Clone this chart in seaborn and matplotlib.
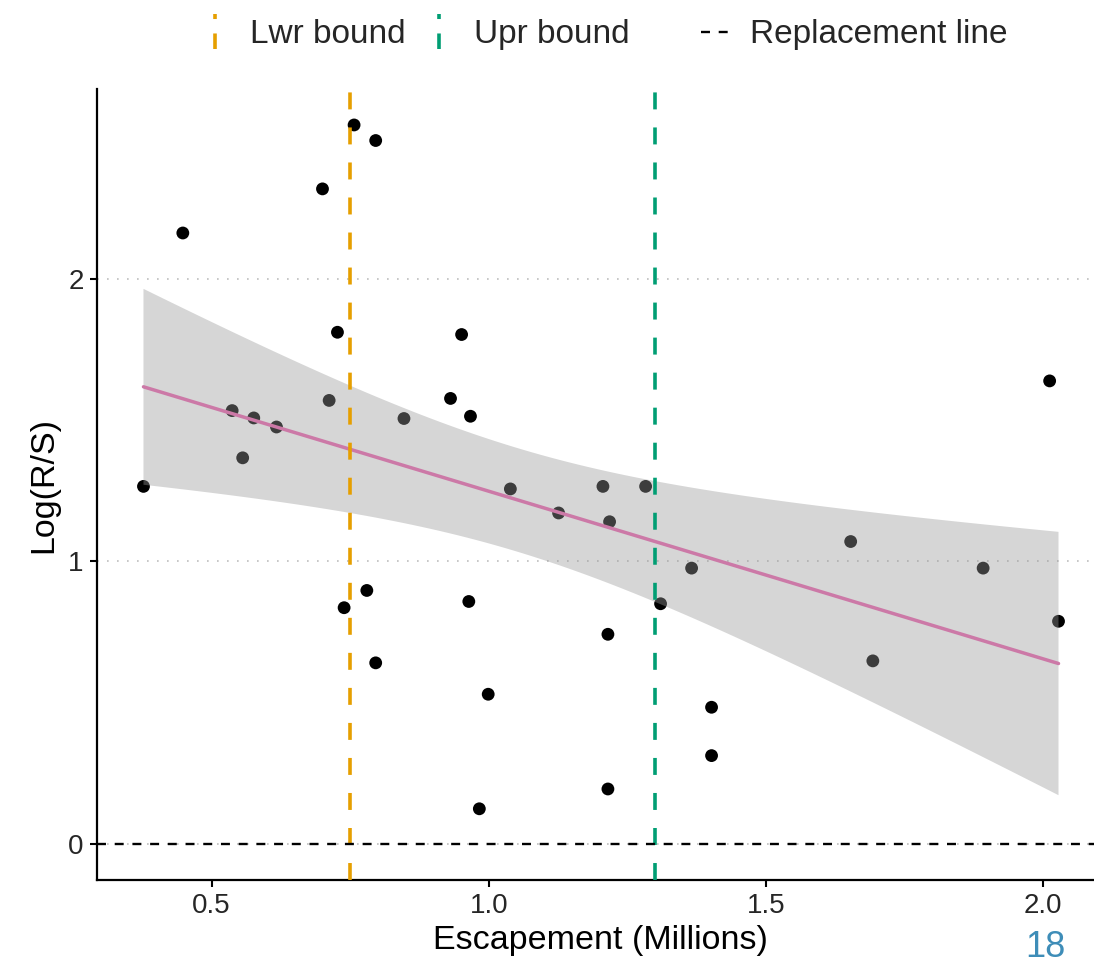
import numpy as np
import pandas as pd
import matplotlib
matplotlib.use("Agg")
import matplotlib.pyplot as plt
import seaborn as sns
from matplotlib.lines import Line2D
from matplotlib.legend_handler import HandlerBase

# ---------------- data ----------------
escapement = [0.377, 0.448, 0.537, 0.556, 0.576, 0.617, 0.700, 0.712, 0.727, 0.739,
              0.757, 0.780, 0.796, 0.796, 0.847, 0.931, 0.951, 0.964, 0.967, 0.983,
              0.999, 1.039, 1.126, 1.206, 1.215, 1.215, 1.218, 1.283, 1.310, 1.366,
              1.402, 1.402, 1.653, 1.693, 1.892, 2.012, 2.028]
log_rs = [1.265, 2.161, 1.533, 1.366, 1.507, 1.475, 2.317, 1.569, 1.810, 0.836,
          2.543, 0.897, 2.488, 0.641, 1.505, 1.576, 1.802, 0.858, 1.513, 0.125,
          0.530, 1.256, 1.171, 1.265, 0.195, 0.742, 1.140, 1.265, 0.850, 0.976,
          0.484, 0.313, 1.070, 0.648, 0.976, 1.638, 0.788]

bound_values = [0.75, 1.30]
bound_labels = ["Lwr bound", "Upr bound"]
bound_colors = ["#E69F00", "#009E73"]
replacement_level = 0.0
replacement_label = "Replacement line"

x_ticks = [0.5, 1.0, 1.5, 2.0]
x_tick_labels = ["0.5", "1.0", "1.5", "2.0"]
y_ticks = [0, 1, 2]
y_tick_labels = ["0", "1", "2"]
x_title = "Escapement (Millions)"
y_title = "Log(R/S)"
page_number = "18"

# ---------------- style ----------------
sns.set_style("ticks")
plt.rcParams["font.family"] = ["Liberation Sans", "DejaVu Sans"]

fig = plt.figure(figsize=(10.94, 9.69), dpi=100)
ax = fig.add_axes([0.0891, 0.0918, 0.920, 0.8163])

df = pd.DataFrame({"Escapement": escapement, "LogRS": log_rs})

ax.yaxis.grid(True, linestyle=(0, (1, 5)), color="#BEBEBE", linewidth=1.2, zorder=0)
ax.set_axisbelow(True)

sns.scatterplot(data=df, x="Escapement", y="LogRS", color="black", s=85,
                edgecolor="none", linewidth=0, zorder=1, ax=ax)

# linear fit with t-based 95% confidence band (as in the reference)
xa = df["Escapement"].to_numpy()
ya = df["LogRS"].to_numpy()
n = len(xa)
slope, intercept = np.polyfit(xa, ya, 1)
resid = ya - (intercept + slope * xa)
s_err = np.sqrt(np.sum(resid ** 2) / (n - 2))
grid = np.linspace(xa.min(), xa.max(), 100)
t_crit = 2.030  # t(0.975, df=35)
half = t_crit * s_err * np.sqrt(1.0 / n + (grid - xa.mean()) ** 2 / np.sum((xa - xa.mean()) ** 2))
fit = intercept + slope * grid
ax.fill_between(grid, fit - half, fit + half, facecolor="#999999", alpha=0.4,
                edgecolor="none", zorder=1.5)

sns.regplot(data=df, x="Escapement", y="LogRS", scatter=False, ci=None, ax=ax,
            line_kws=dict(color="#CC79A7", lw=2.5, zorder=2.5))

bound_handles = []
for xv, col in zip(bound_values, bound_colors):
    ax.axvline(xv, color=col, lw=2.6, dashes=(4.7, 5.0), zorder=3)
    bound_handles.append(Line2D([], [], color=col, lw=2.6, dashes=(4.3, 4.0)))
ax.axhline(replacement_level, color="black", lw=1.7, dashes=(3.8, 3.7), zorder=3)
repl_handle = Line2D([], [], color="black", lw=1.7, dashes=(3.8, 3.7))

ax.set_xlim(0.294, 2.110)
ax.set_ylim(-0.127, 2.67)
ax.set_xticks(x_ticks, x_tick_labels)
ax.set_yticks(y_ticks, y_tick_labels)
ax.tick_params(axis="both", labelsize=20, labelcolor="#262626", color="black",
               length=5, width=1.5, direction="out")
ax.tick_params(axis="x", pad=4)
ax.tick_params(axis="y", pad=5)
for side in ["top", "right"]:
    ax.spines[side].set_visible(False)
for side in ["left", "bottom"]:
    ax.spines[side].set_linewidth(1.6)
    ax.spines[side].set_color("black")

ax.set_xlabel(x_title, fontsize=24.5, color="black")
ax.set_ylabel(y_title, fontsize=24.5, color="black")
ax.xaxis.set_label_coords(0.5, -0.057)
ax.yaxis.set_label_coords(-0.038, 0.5)


class VLineHandler(HandlerBase):
    def create_artists(self, legend, orig_handle, xdescent, ydescent,
                       width, height, fontsize, trans):
        cx = width / 2 - xdescent
        y0 = -ydescent - 0.25 * height
        y1 = height - ydescent + 0.25 * height
        ln = Line2D([cx, cx], [y0, y1])
        ln.update_from(orig_handle)
        ln.set_data([cx, cx], [y0, y1])
        ln.set_transform(trans)
        return [ln]


leg_kw = dict(frameon=False, fontsize=24, handlelength=0.84, handletextpad=0.62,
              columnspacing=0.6, borderpad=0, borderaxespad=0, loc="center left")
leg1 = fig.legend(bound_handles, bound_labels, ncol=2,
                  handler_map={h: VLineHandler() for h in bound_handles},
                  bbox_to_anchor=(0.1837, 0.9639), **leg_kw)
leg2 = fig.legend([repl_handle], [replacement_label], ncol=1,
                  bbox_to_anchor=(0.6408, 0.9639), **leg_kw)

fig.text(0.9557, 0.012, page_number, fontsize=26, color="#3E8DB8",
         ha="center", va="baseline")

fig.savefig("out.png", dpi=100)
